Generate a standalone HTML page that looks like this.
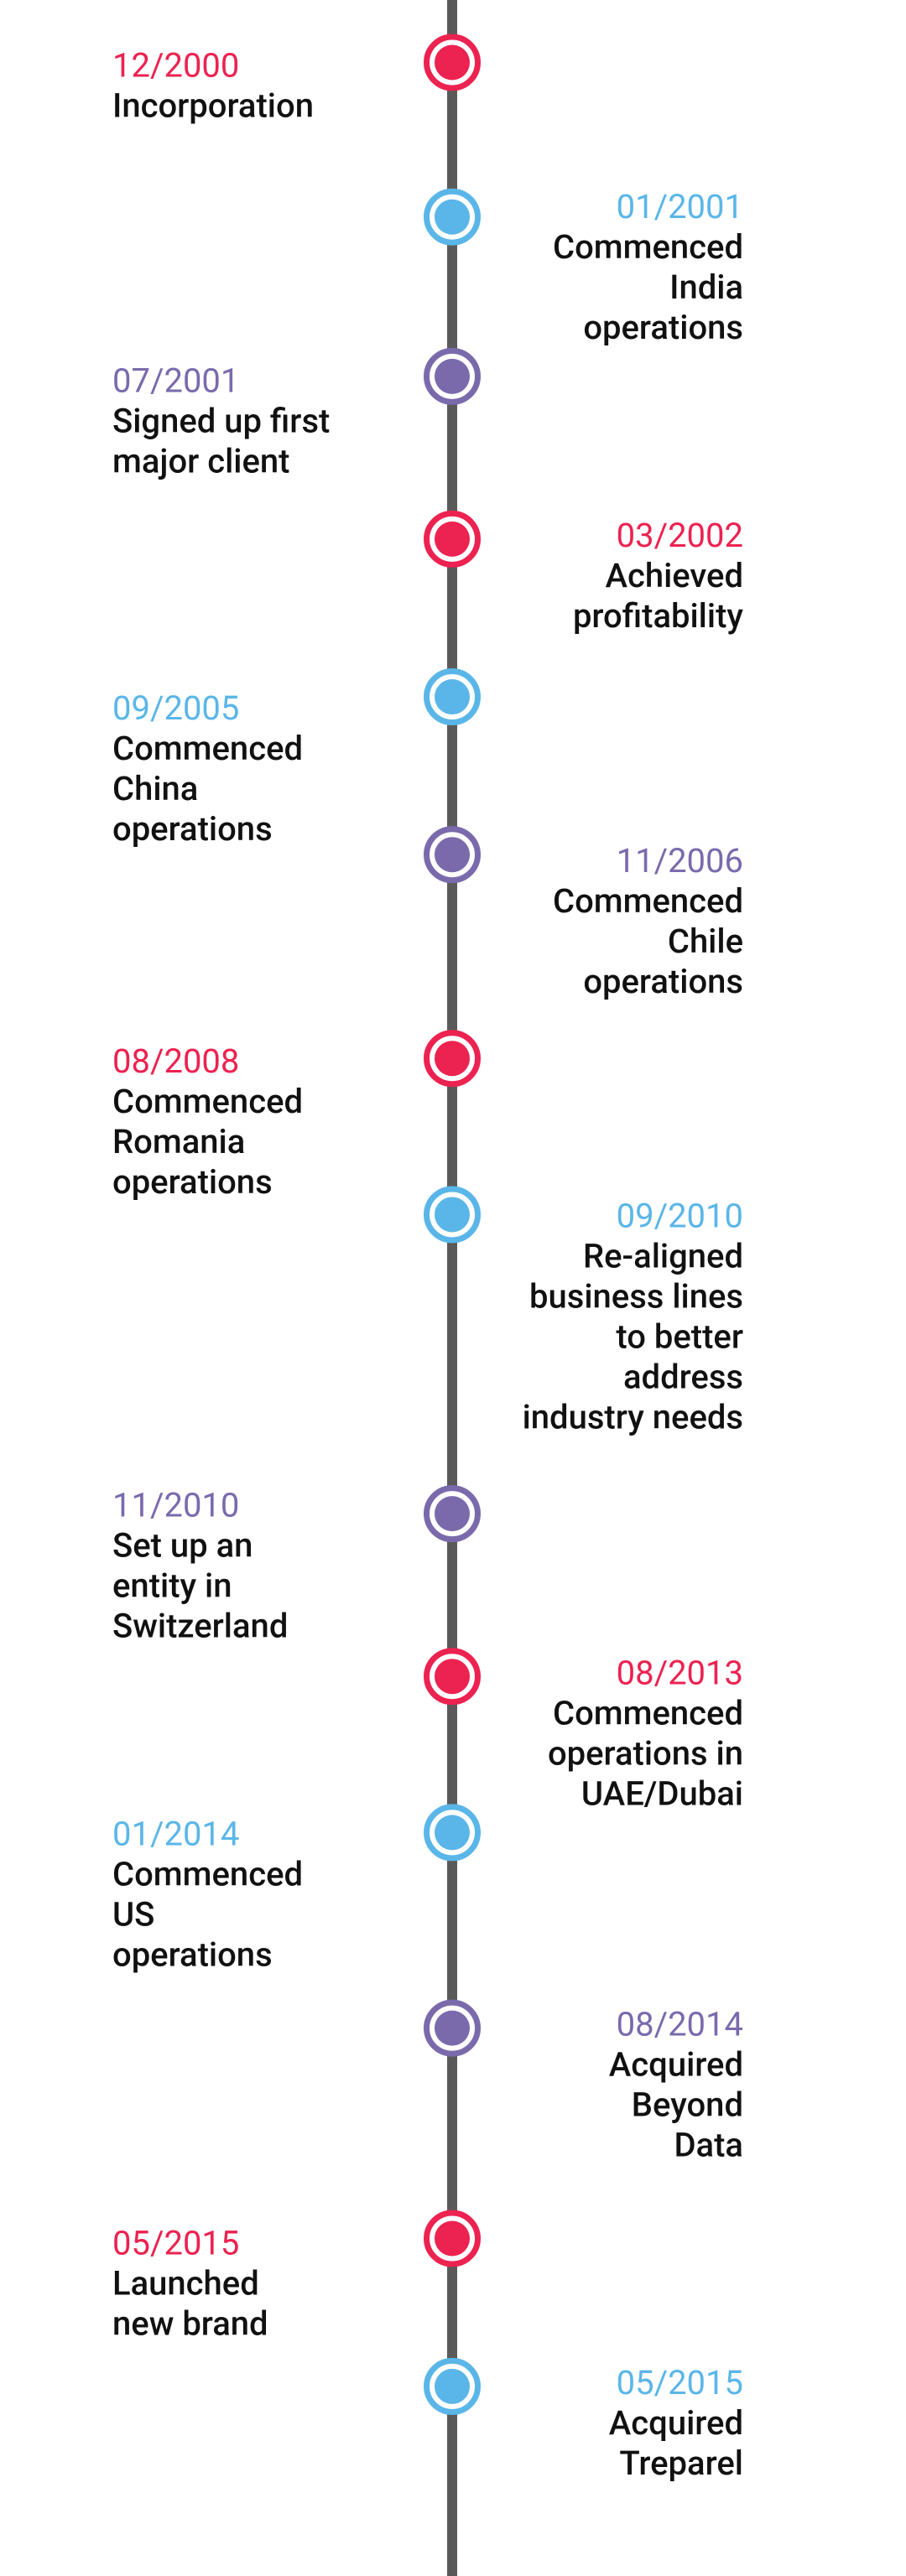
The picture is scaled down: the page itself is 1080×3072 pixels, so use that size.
<!DOCTYPE html>
<html><head><meta charset="utf-8"><style>
html,body{margin:0;padding:0;background:#fff;}
svg{display:block;}
text{font-family:"Roboto","Liberation Sans",sans-serif;font-size:40px;}
.lbl{fill:#111;font-weight:500;}
</style></head><body>
<svg id="chart" width="1080" height="3072" viewBox="0 0 1080 3072" xmlns="http://www.w3.org/2000/svg">
<rect x="533" y="0" width="12" height="3072" fill="#5a5a5a"/>
<g id="marks"></g>
</svg>
<script>
const dates = ["12/2000","01/2001","07/2001","03/2002","09/2005","11/2006","08/2008","09/2010","11/2010","08/2013","01/2014","08/2014","05/2015","05/2015"];
const labels = [["Incorporation"],["Commenced","India","operations"],["Signed up first","major client"],["Achieved","profitability"],["Commenced","China","operations"],["Commenced","Chile","operations"],["Commenced","Romania","operations"],["Re-aligned","business lines","to better","address","industry needs"],["Set up an","entity in","Switzerland"],["Commenced","operations in","UAE/Dubai"],["Commenced","US","operations"],["Acquired","Beyond","Data"],["Launched","new brand"],["Acquired","Treparel"]];
const markerPos = [38,132,229,328,424,520,644,739,921,1020,1115,1234,1362,1452];
const datePos = [40,126,232,326,431,524,646,740,916,1018,1116,1232,1365,1450];
const sides = ["L","R","L","R","L","R","L","R","L","R","L","R","L","R"];
const colorKeys = ["red","blue","purple","red","blue","purple","red","blue","purple","red","blue","purple","red","blue"];

const palette = {red:"#ec2250", blue:"#5ab6e8", purple:"#7a6aac"};
const yScale = v => v * 1.96;
const cx = 539, leftX = 134, rightX = 886, lineH = 48;
const NS = "http://www.w3.org/2000/svg";
const g = document.getElementById("marks");
for (let i = 0; i < dates.length; i++) {
  const col = palette[colorKeys[i]];
  const cy = yScale(markerPos[i]);
  const outer = document.createElementNS(NS, "circle");
  outer.setAttribute("cx", cx); outer.setAttribute("cy", cy); outer.setAttribute("r", 30.5);
  outer.setAttribute("fill", "#fff"); outer.setAttribute("stroke", col); outer.setAttribute("stroke-width", 7);
  
  
  g.appendChild(outer);
  const inner = document.createElementNS(NS, "circle");
  inner.setAttribute("cx", cx); inner.setAttribute("cy", cy); inner.setAttribute("r", 21);
  inner.setAttribute("fill", col);
  
  
  g.appendChild(inner);
  const left = sides[i] === "L";
  const x = left ? leftX : rightX;
  const anchor = left ? "start" : "end";
  const by = yScale(datePos[i]) + 13;
  const d = document.createElementNS(NS, "text");
  d.setAttribute("x", x); d.setAttribute("y", by); d.setAttribute("text-anchor", anchor);
  d.setAttribute("fill", col);
  d.textContent = dates[i];
  
  
  g.appendChild(d);
  labels[i].forEach((ln, k) => {
    const t = document.createElementNS(NS, "text");
    t.setAttribute("x", x); t.setAttribute("y", by + lineH * (k + 1)); t.setAttribute("text-anchor", anchor);
    t.setAttribute("class", "lbl");
    t.textContent = ln;
    
    
    g.appendChild(t);
  });
}
</script>
</body></html>
